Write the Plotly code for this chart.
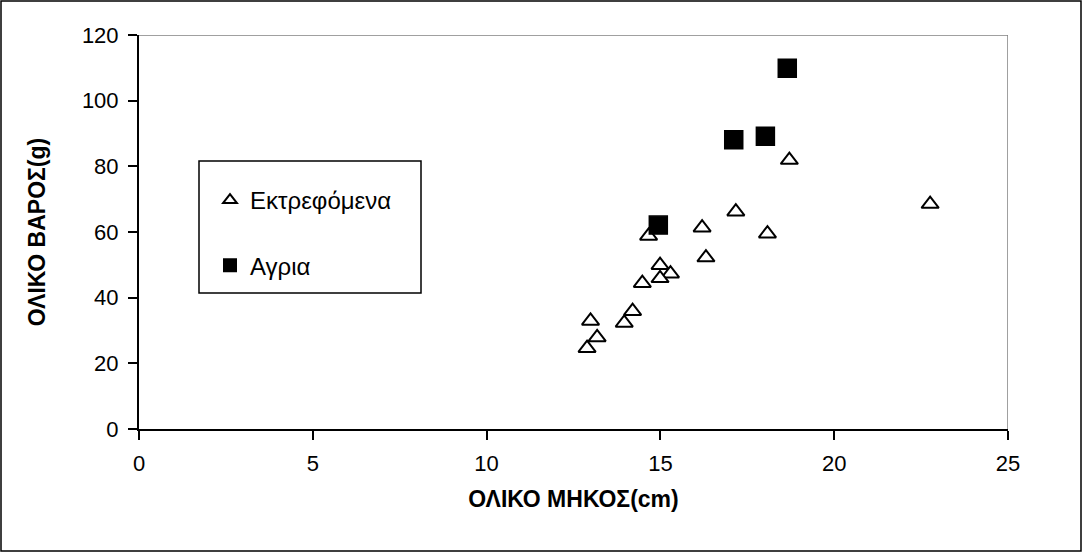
import plotly.graph_objects as go

# Total length (cm) and total weight (g) per fish
farmed_len = [18.71, 22.76, 17.17, 16.20, 18.08, 14.66, 16.31, 14.99, 15.29, 14.99,
              14.48, 14.20, 13.96, 12.99, 13.18, 12.89]
farmed_wt = [81.9, 68.5, 66.2, 61.3, 59.5, 58.8, 52.2, 49.9, 47.3, 45.9,
             44.4, 35.9, 32.3, 32.9, 27.9, 24.6]

wild_len = [18.65, 17.11, 18.02, 14.94]
wild_wt = [109.9, 88.1, 89.2, 62.1]

x_ticks = [0, 5, 10, 15, 20, 25]
y_ticks = [0, 20, 40, 60, 80, 100, 120]

W, H = 1083, 553
L, R, T, B = 139, 75, 35, 124
pw, ph = W - L - R, H - T - B

font = "Liberation Sans, Arial, sans-serif"

fig = go.Figure()
fig.add_trace(go.Scatter(
    x=farmed_len, y=farmed_wt, mode="markers", name="Εκτρεφόμενα",
    legendgroup="a",
    marker=dict(symbol="triangle-up", size=15, color="white",
                line=dict(color="black", width=2)),
))
fig.add_trace(go.Scatter(
    x=wild_len, y=wild_wt, mode="markers", name="Αγρια",
    legendgroup="b",
    marker=dict(symbol="square", size=18, color="black",
                line=dict(color="black", width=1.5)),
))

axis_common = dict(
    showgrid=False, zeroline=False, showline=True, linecolor="black", linewidth=2,
    ticks="outside", ticklen=9, tickwidth=1.5, tickcolor="black",
    tickfont=dict(family=font, size=22, color="black"),
)

fig.update_xaxes(range=[0, 25], tickvals=x_ticks, ticklabelstandoff=5,
                 title=dict(text="<b>ΟΛΙΚΟ ΜΗΚΟΣ(cm)</b>", standoff=15,
                            font=dict(family=font, size=23, color="black")),
                 **axis_common)
fig.update_yaxes(range=[0, 120], tickvals=y_ticks, ticklabelstandoff=5,
                 title=dict(text="<b>ΟΛΙΚΟ ΒΑΡΟΣ(g)</b>", standoff=30,
                            font=dict(family=font, size=23, color="black")),
                 **axis_common)

shapes = [
    # grey top and right edges of the plot area
    dict(type="line", xref="x", yref="y", x0=0, x1=25, y0=120, y1=120,
         line=dict(color="#808080", width=1.5)),
    dict(type="line", xref="x", yref="y", x0=25, x1=25, y0=0, y1=120,
         line=dict(color="#808080", width=1.5)),
    # legend frame
    dict(type="rect", xref="paper", yref="paper",
         x0=(199 - L) / pw, x1=(421 - L) / pw,
         y0=(H - B - 293) / ph, y1=(H - B - 161) / ph,
         line=dict(color="black", width=1.5), fillcolor="white", layer="below"),
    # outer frame of the chart
    dict(type="rect", xref="paper", yref="paper",
         x0=(1 - L) / pw, x1=(W - 2 - L) / pw,
         y0=(H - B - (H - 2)) / ph, y1=(H - B - 1) / ph,
         line=dict(color="black", width=1.5)),
]

fig.update_layout(
    width=W, height=H,
    margin=dict(l=L, r=R, t=T, b=B),
    paper_bgcolor="white", plot_bgcolor="white",
    shapes=shapes,
    showlegend=True,
    legend=dict(
        x=(210 - L) / pw, y=(H - B - 178) / ph, xanchor="left", yanchor="top",
        bgcolor="rgba(0,0,0,0)", borderwidth=0,
        traceorder="grouped", tracegroupgap=31, itemsizing="constant",
        font=dict(family=font, size=24, color="black"),
    ),
)

fig.write_html("out.html")
